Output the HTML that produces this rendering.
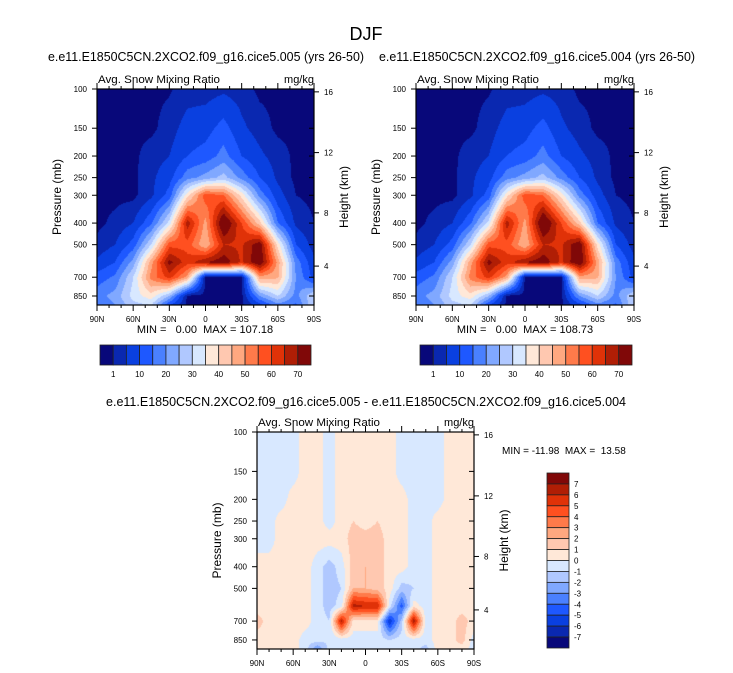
<!DOCTYPE html>
<html><head><meta charset="utf-8"><style>
body{margin:0;background:#fff;width:733px;height:673px;overflow:hidden;font-family:"Liberation Sans",sans-serif}
svg{position:absolute;left:0;top:0}
canvas{position:absolute}
text{white-space:pre}
</style></head><body>
<canvas id="c1" style="left:97px;top:89px" width="217" height="216"></canvas>
<canvas id="c2" style="left:416px;top:89px" width="218" height="216"></canvas>
<canvas id="c3" style="left:257px;top:432px" width="217" height="217"></canvas>
<svg id="s" width="733" height="673"></svg>
<script>
// ---- data ----
const pressureLevels=[100,150,200,250,300,400,500,600,700,850,933];
const latsA=[90,75,60,45,30,15,0,-15,-30,-45,-60,-75,-90];
const snow005=[
[0,0,0,0,0.5,3,3,4,3,0,0,0,0],
[0,0,0,0,3,7,8,12,6,3,0,0,0],
[0,0,0,3,5,10,12,17,10,6,3,0,0],
[0,0,0,4,8,18,22,27,18,10,4,0,0],
[0,0,0,4,12,38,58,55,38,18,7,1,0],
[0,2,5,14,32,68,48,78,60,42,15,4,1],
[2,5,12,30,58,58,45,65,64,74,38,10,3],
[6,10,22,48,72,62,70,74,64,76,48,18,6],
[12,16,30,52,62,48,0,0,0,48,46,20,8],
[18,22,32,38,25,0,0,0,0,20,30,18,30],
[16,20,28,30,10,0,0,0,0,8,18,14,30]];
const snow004=[
[0,0,0,0,0.5,3,3,4,3,0,0,0,0],
[0,0,0,0,3,7,8,12,6,3,0,0,0],
[0,0,0,3,5,10,12,17,10,6,3,0,0],
[0,0,0,4,8,18,22,27,18,10,4,0,0],
[0,0,0,4,12,38,58,55,38,18,7,1,0],
[0,2,5,14,32,68,48,79,60,42,15,4,1],
[2,5,12,30,58,58,45,65,64,75,38,10,3],
[6,10,22,48,72,62,70,74,64,76,48,18,6],
[12,16,30,52,62,48,0,0,0,48,46,20,8],
[18,22,32,38,25,0,0,0,0,20,30,18,30],
[16,20,28,30,10,0,0,0,0,8,18,14,30]];
const latsD=[90,80,70,60,50,40,30,20,10,0,-10,-20,-30,-40,-50,-60,-70,-80,-90];
const diffVals=[
[-.5,-.5,-.5,-.5,.5,.5,-.5,.5,.5,.5,.5,.5,-.5,-.5,-.5,-.5,.5,.5,.5],
[-.5,-.5,-.5,-.5,.5,.5,-.5,.5,.5,.5,.5,.5,-.5,-.5,-.5,-.5,.5,.5,.5],
[-.5,-.5,-.5,.5,.5,.5,-.5,.5,.5,.5,.5,.5,.5,-.5,-.5,-.5,.5,.5,.5],
[-.5,-.5,.5,.5,.5,.5,-.5,.5,1,.5,1,.5,.5,-.5,-.5,.5,.5,.5,.5],
[-.5,-.5,.5,.5,.5,.5,.5,.5,1.5,1.5,1.5,.5,.5,-.5,-.5,.5,.5,.5,.5],
[.5,.5,.5,.5,.5,-.5,-1.5,-.5,1.5,2,1.5,.5,.5,-.5,-.5,.5,.5,.5,.5],
[.5,.5,.5,.5,.5,-.5,-1.5,-1,2,2,1.5,.5,-1.5,-1,-.5,.5,.5,.5,.5],
[.5,.5,.5,.5,.5,-.5,-1.5,-.5,6.5,6,6,-.5,-4.5,.5,-.5,.5,.5,.5,.5],
[1.5,.5,.5,.5,.5,-.5,-1,6.5,.5,.5,.5,-6,-1.5,7,-.5,.5,.5,1.5,.5],
[.5,.5,.5,.5,-.5,-.5,-1,-.5,-.5,-.5,-.5,-1,-.5,-.5,-.5,.5,.5,1.5,-.5],
[.5,.5,.5,.5,-.5,-3,-.5,-.5,-.5,-.5,-.5,-.5,-.5,-.5,-1.5,.5,.5,.5,-.5]];
const snowBounds=[1,5,10,15,20,25,30,35,40,45,50,55,60,65,70];
const snowTickLabels=["1","10","20","30","40","50","60","70"];
const diffBounds=[-7,-6,-5,-4,-3,-2,-1,0,1,2,3,4,5,6,7];
const diffTickLabels=["7","6","5","4","3","2","1","0","-1","-2","-3","-4","-5","-6","-7"];
const pTicks=[100,150,200,250,300,400,500,700,850];
const hTicks=[[16,103],[12,193],[8,360],[4,624]];
const latTicks=["90N","60N","30N","0","30S","60S","90S"];
const colors=["#08087a","#0a28b0","#0a40e0","#1e58ff","#4a80ff","#80a8ff","#b0c8ff","#d8e8ff","#ffe8d8","#ffc8b0","#ffa880","#ff7a4a","#ff5020","#e03208","#b01e05","#800808"];
// ---- helpers ----
const PT=100,PB=933;
function yOf(p,top,h){return top+h*Math.log(p/PT)/Math.log(PB/PT);}
function colorIdx(v,b){let i=0;while(i<b.length&&v>=b[i])i++;return i;}
function hex(c){return [1,3,5].map(i=>parseInt(c.substr(i,2),16));}
const rgb=colors.map(hex);
function field(lats,vals,lat,p){
  const lp=Math.log(p);let j=0;
  while(j<pressureLevels.length-2&&lp>Math.log(pressureLevels[j+1]))j++;
  let ty=(lp-Math.log(pressureLevels[j]))/(Math.log(pressureLevels[j+1])-Math.log(pressureLevels[j]));
  ty=Math.max(0,Math.min(1,ty));
  let i=0;while(i<lats.length-2&&lat<lats[i+1])i++;
  let tx=(lats[i]-lat)/(lats[i]-lats[i+1]);tx=Math.max(0,Math.min(1,tx));
  const a=vals[j][i]*(1-tx)+vals[j][i+1]*tx, b=vals[j+1][i]*(1-tx)+vals[j+1][i+1]*tx;
  return a*(1-ty)+b*ty;
}
function drawCanvas(id,lats,vals,bounds){
  const c=document.getElementById(id),ctx=c.getContext('2d'),W=c.width,H=c.height;
  const img=ctx.createImageData(W,H);
  for(let y=0;y<H;y++){const p=PT*Math.pow(PB/PT,(y+.5)/H);
    for(let x=0;x<W;x++){const lat=90-180*(x+.5)/W;
      const k=colorIdx(field(lats,vals,lat,p),bounds),o=(y*W+x)*4,cc=rgb[k];
      img.data[o]=cc[0];img.data[o+1]=cc[1];img.data[o+2]=cc[2];img.data[o+3]=255;}}
  ctx.putImageData(img,0,0);
}
drawCanvas('c1',latsA,snow005,snowBounds);
drawCanvas('c2',latsA,snow004,snowBounds);
drawCanvas('c3',latsD,diffVals,diffBounds);
const S=document.getElementById('s'),NS='http://www.w3.org/2000/svg';
function mk(t,at,txt){const e=document.createElementNS(NS,t);for(const k in at)e.setAttribute(k,at[k]);if(txt!==undefined)e.textContent=txt;S.appendChild(e);return e;}
function txt(x,y,s,size,anchor,name,extra){const e=mk('text',Object.assign({x:x,y:y,'font-size':size,'text-anchor':anchor||'start',fill:'#000'},extra||{}),s);
  
  return e;}
txt(366,40,"DJF",18,'middle','main-title');
txt(206,61,"e.e11.E1850C5CN.2XCO2.f09_g16.cice5.005 (yrs 26-50)",12.5,'middle','subtitle-005',{textLength:316,lengthAdjust:'spacingAndGlyphs'});
txt(537,61,"e.e11.E1850C5CN.2XCO2.f09_g16.cice5.004 (yrs 26-50)",12.5,'middle','subtitle-004',{textLength:316,lengthAdjust:'spacingAndGlyphs'});
txt(366,406,"e.e11.E1850C5CN.2XCO2.f09_g16.cice5.005 - e.e11.E1850C5CN.2XCO2.f09_g16.cice5.004",12.5,'middle','difference-title',{textLength:520,lengthAdjust:'spacingAndGlyphs'});
function frame(L,Tp,W,H,tag){
  const r=mk('rect',{x:L,y:Tp,width:W,height:H,fill:'none',stroke:'#000','stroke-width':1.2});
  
  
  txt(L+1,Tp-6,"Avg. Snow Mixing Ratio",11,'start',tag+'-left-title',{textLength:122,lengthAdjust:'spacingAndGlyphs'});
  txt(L+W,Tp-6,"mg/kg",11,'end',tag+'-units');
  pTicks.forEach(p=>{const y=yOf(p,Tp,H);
    mk('line',{x1:L-5,x2:L,y1:y,y2:y,stroke:'#000'});mk('line',{x1:L+W,x2:L+W-5,y1:y,y2:y,stroke:'#000'});
    txt(L-10,y+3,String(p),8,'end',tag+'-pressure-tick');});
  hTicks.forEach(h=>{const y=yOf(h[1],Tp,H);mk('line',{x1:L+W,x2:L+W+5,y1:y,y2:y,stroke:'#000'});
    txt(L+W+10,y+3,String(h[0]),8,'start',tag+'-height-tick');});
  for(let i=0;i<=18;i++){const x=L+W*i/18,len=i%3==0?6:3;
    mk('line',{x1:x,x2:x,y1:Tp+H,y2:Tp+H+len,stroke:'#000'});mk('line',{x1:x,x2:x,y1:Tp,y2:Tp-len,stroke:'#000'});}
  latTicks.forEach((s,i)=>txt(L+W*i/6,Tp+H+17,s,8,'middle',tag+'-lat-tick'));
  const a=txt(0,0,"Pressure (mb)",12,'middle',tag+'-y-axis-title');a.setAttribute('transform',`translate(${L-36},${Tp+H/2}) rotate(-90)`);
  const b=txt(0,0,"Height (km)",12,'middle',tag+'-right-axis-title');b.setAttribute('transform',`translate(${L+W+34},${Tp+H/2}) rotate(-90)`);
}
frame(97,89,217,216,'plot-005');
frame(416,89,218,216,'plot-004');
frame(257,432,217,217,'plot-diff');
txt(205,333,"MIN =   0.00  MAX = 107.18",11,'middle','minmax-005');
txt(525,333,"MIN =   0.00  MAX = 108.73",11,'middle','minmax-004');
txt(502,454,"MIN = -11.98  MAX =  13.58",10,'start','minmax-diff');
function hbar(L,Tp,W,H,tag){const bw=W/colors.length;
  colors.forEach((c,i)=>{const r=mk('rect',{x:L+i*bw,y:Tp,width:bw,height:H,fill:c,stroke:'#222','stroke-width':0.8});
    
    });
  snowTickLabels.forEach((s,k)=>txt(L+(1+2*k)*bw,Tp+H+12,s,8,'middle',tag+'-label'));}
hbar(100,345,211,20,'colorbar-005');hbar(420,345,212,20,'colorbar-004');
(function(){const L=547,Tp=473,W=22,H=175,bh=H/colors.length;
  colors.slice().reverse().forEach((c,i)=>{const r=mk('rect',{x:L,y:Tp+i*bh,width:W,height:bh,fill:c,stroke:'#222','stroke-width':0.8});
    
    });
  diffTickLabels.forEach((s,k)=>txt(L+W+5,Tp+(k+1)*bh+3,s,8,'start','colorbar-diff-label'));})();
</script>
</body></html>
